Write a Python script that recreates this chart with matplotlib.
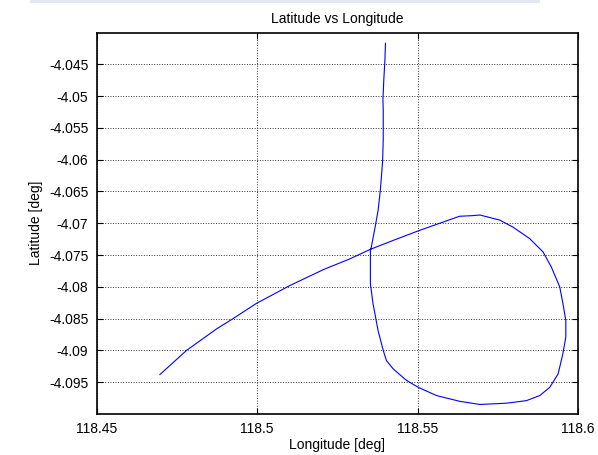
import matplotlib
matplotlib.use('Agg')
import matplotlib.pyplot as plt
from matplotlib.patches import Rectangle

# track points (tail -> loop -> northward leg)
longitude = [118.4697, 118.4780, 118.4874, 118.4925, 118.4998, 118.5102, 118.5206,
             118.5289, 118.5353, 118.5424, 118.5502, 118.5569, 118.5631, 118.5673,
             118.5694, 118.5756, 118.5797, 118.5849, 118.5891, 118.5917, 118.5943,
             118.5953, 118.5962, 118.5962, 118.5953, 118.5938, 118.5912, 118.5881,
             118.5839, 118.5777, 118.5694, 118.5631, 118.5559, 118.5502, 118.5465,
             118.5424, 118.5403, 118.5393, 118.5377, 118.5361, 118.5353, 118.5353,
             118.5356, 118.5367, 118.5377, 118.5384, 118.5391, 118.5393, 118.5393,
             118.5392, 118.5395, 118.5398, 118.5400]
latitude = [-4.0938, -4.0900, -4.0866, -4.0850, -4.0826, -4.0798, -4.0773,
            -4.0756, -4.0741, -4.0727, -4.0712, -4.0700, -4.0689, -4.0688,
            -4.0687, -4.0695, -4.0706, -4.0724, -4.0745, -4.0769, -4.0800,
            -4.0826, -4.0853, -4.0879, -4.0905, -4.0937, -4.0958, -4.0971,
            -4.0979, -4.0983, -4.0985, -4.0980, -4.0971, -4.0958, -4.0947,
            -4.0929, -4.0916, -4.0900, -4.0869, -4.0826, -4.0795, -4.0743,
            -4.0737, -4.0708, -4.0680, -4.0648, -4.0603, -4.0569, -4.0522,
            -4.0506, -4.0472, -4.0446, -4.0417]

x_ticks = [118.45, 118.5, 118.55, 118.6]
x_tick_labels = ['118.45', '118.5', '118.55', '118.6']
y_ticks = [-4.045, -4.05, -4.055, -4.06, -4.065, -4.07, -4.075, -4.08, -4.085, -4.09, -4.095]
y_tick_labels = ['-4.045', '-4.05', '-4.055', '-4.06', '-4.065', '-4.07', '-4.075',
                 '-4.08', '-4.085', '-4.09', '-4.095']

plt.rcParams['font.family'] = ['Liberation Sans', 'DejaVu Sans']
plt.rcParams['font.size'] = 10

W, H = 598, 455
fig = plt.figure(figsize=(W / 100, H / 100), dpi=100)
fig.patch.set_facecolor('white')

# faint band along the top edge of the screenshot
fig.patches.append(Rectangle((30 / W, 1 - 3 / H), 510 / W, 3 / H, transform=fig.transFigure,
                             facecolor='#e4e6f0', edgecolor='none'))

# axes box in pixel terms
left, right, top, bottom = 96.7, 578, 32.5, 414
ax = fig.add_axes([left / W, 1 - bottom / H, (right - left) / W, (bottom - top) / H])

ax.plot(longitude, latitude, color='#0000ff', linewidth=0.8)

ax.set_xlim(118.45, 118.6)
ax.set_ylim(-4.1, -4.04)
ax.set_xticks(x_ticks)
ax.set_xticklabels(x_tick_labels)
ax.set_yticks(y_ticks)
ax.set_yticklabels(y_tick_labels)

ax.tick_params(direction='in', length=4, width=0.8, top=True, right=True, pad=6)
for s in ax.spines.values():
    s.set_linewidth(1.2)
    s.set_color('black')

ax.grid(True, linestyle=':', color='#303030', linewidth=0.7)

ax.set_title('Latitude vs Longitude', fontsize=10, pad=7)
ax.set_xlabel('Longitude [deg]', labelpad=1)
ax.set_ylabel('Latitude [deg]', labelpad=4)

fig.savefig('out.png', dpi=100)
